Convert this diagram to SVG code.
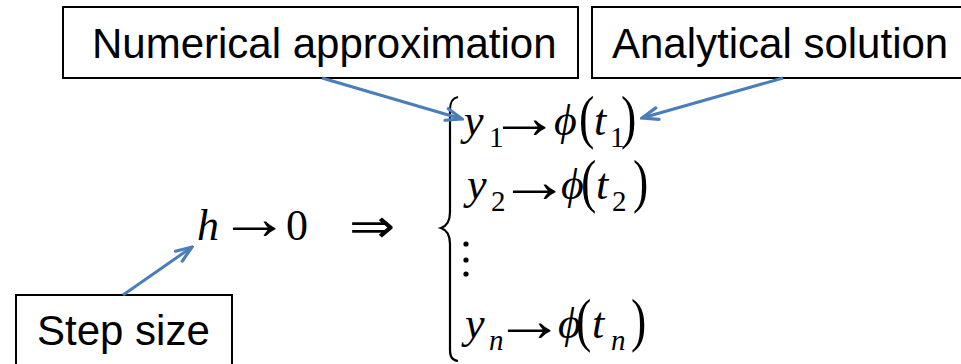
<svg xmlns="http://www.w3.org/2000/svg" width="961" height="364" viewBox="0 0 961 364">
<defs>
<style>
.box{fill:#fff;stroke:#000;stroke-width:2}
.lbl{font-family:"Liberation Sans",Arial,sans-serif;font-size:42px;fill:#000}
.conn{stroke:#4A7EBB;stroke-width:3;fill:none;marker-end:url(#ah)}
.m{font-family:"Liberation Serif","DejaVu Serif",serif;font-size:44px;fill:#000}
.i{font-family:"Liberation Serif","DejaVu Serif",serif;font-size:44px;font-style:italic;fill:#000}
.s{font-family:"Liberation Serif","DejaVu Serif",serif;font-size:29px;fill:#000}
.si{font-family:"Liberation Serif","DejaVu Serif",serif;font-size:29px;font-style:italic;fill:#000}
.ar{font-family:"Liberation Serif","DejaVu Serif",serif;font-size:62px;fill:#000}
.dar{font-family:"DejaVu Sans",sans-serif;font-size:46px;fill:#000}
.p{font-family:"Liberation Serif","DejaVu Serif",serif;font-size:46px;fill:#000}
</style>
<marker id="ah" viewBox="0 0 20 16" refX="18" refY="8" markerWidth="20" markerHeight="16" markerUnits="userSpaceOnUse" orient="auto">
<path d="M2,2 L18,8 L2,14" fill="none" stroke="#4A7EBB" stroke-width="3.2" stroke-linecap="round" stroke-linejoin="miter"/>
</marker>
</defs>
<rect width="961" height="364" fill="#fff"/>
<g id="numerical">
<rect class="box" x="63" y="7" width="515" height="71"/>
<text class="lbl" x="92" y="58">Numerical approximation</text>
</g>
<g id="analytical">
<rect class="box" x="592" y="7" width="380" height="71"/>
<text class="lbl" x="612" y="58">Analytical solution</text>
</g>
<g id="stepsize">
<rect class="box" x="16" y="295" width="216" height="80"/>
<text class="lbl" x="37" y="345">Step size</text>
</g>
<g id="limit">
<text class="i" x="197" y="240">h</text>
<text class="ar" transform="translate(218,239) scale(1.16,1)" x="0" y="0">→</text>
<text class="m" x="286" y="240">0</text>
<text class="dar" transform="translate(349,242) scale(1.2,1)" x="0" y="0">⇒</text>
</g>
<g id="system">
<path d="M458,97 C452,98 450,102 450,110 L450,212 C450,221 447,226 441,228 C447,230 450,235 450,244 L450,350 C450,357 452,360 458,361" fill="none" stroke="#000" stroke-width="2.2"/>
<g id="row1">
<text class="i" x="464" y="135">y</text>
<text class="s" x="489" y="147">1</text>
<text class="ar" transform="translate(488,138) scale(1.16,1)" x="0" y="0">→</text>
<text class="i" x="554" y="135">ϕ</text>
<text class="p" transform="translate(0,137) scale(1,1.3)" x="579" y="0">(</text>
<text class="i" x="594" y="135">t</text>
<text class="s" x="610" y="147">1</text>
<text class="p" transform="translate(0,137) scale(1,1.3)" x="621" y="0">)</text>
</g>
<g id="row2">
<text class="i" x="467" y="199">y</text>
<text class="s" x="491" y="211">2</text>
<text class="ar" transform="translate(498,202) scale(1.16,1)" x="0" y="0">→</text>
<text class="i" x="561" y="199">ϕ</text>
<text class="p" transform="translate(0,201) scale(1,1.3)" x="581" y="0">(</text>
<text class="i" x="596" y="199">t</text>
<text class="s" x="612" y="211">2</text>
<text class="p" transform="translate(0,201) scale(1,1.3)" x="633" y="0">)</text>
</g>
<circle cx="466" cy="244" r="2.6"/>
<circle cx="466" cy="260" r="2.6"/>
<circle cx="466" cy="274" r="2.6"/>
<g id="rown">
<text class="i" x="465" y="338">y</text>
<text class="si" x="489" y="350">n</text>
<text class="ar" transform="translate(493,341) scale(1.16,1)" x="0" y="0">→</text>
<text class="i" x="558" y="338">ϕ</text>
<text class="p" transform="translate(0,340) scale(1,1.3)" x="576" y="0">(</text>
<text class="i" x="592" y="338">t</text>
<text class="si" x="611" y="350">n</text>
<text class="p" transform="translate(0,340) scale(1,1.3)" x="631" y="0">)</text>
</g>
</g>
<g id="connectors">
<line class="conn" x1="322" y1="78" x2="462" y2="119"/>
<line class="conn" x1="783" y1="78" x2="642" y2="118"/>
<line class="conn" x1="123" y1="295" x2="192" y2="247"/>
</g>
</svg>
